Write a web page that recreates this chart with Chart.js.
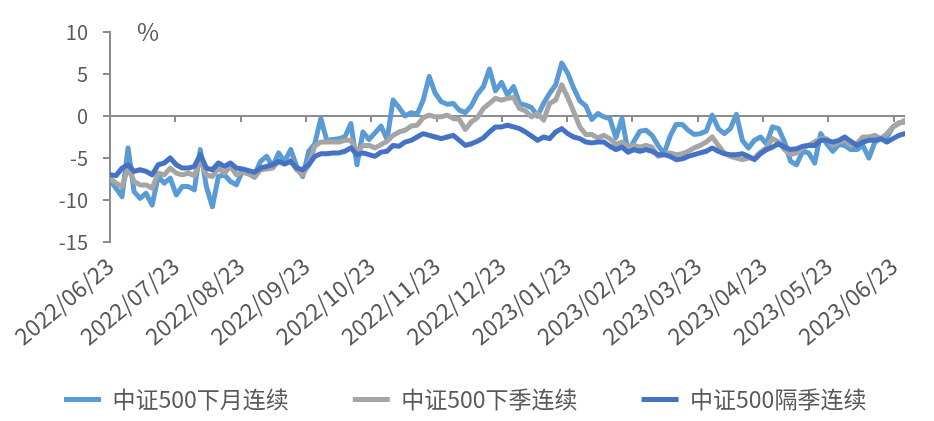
<!DOCTYPE html>
<html>
<head>
<meta charset="utf-8">
<script src="https://cdn.jsdelivr.net/npm/chart.js@4.4.0/dist/chart.umd.min.js"></script>
<style>
  html, body { margin: 0; padding: 0; background: #fff; }
  #wrap { width: 934px; height: 421px; }
</style>
</head>
<body>
<div id="wrap"><canvas id="grafico" width="934" height="421"></canvas></div>
<script>
// month tick labels (x axis)
const monthLabels = ['2022/06/23', '2022/07/23', '2022/08/23', '2022/09/23', '2022/10/23', '2022/11/23',
  '2022/12/23', '2023/01/23', '2023/02/23', '2023/03/23', '2023/04/23', '2023/05/23', '2023/06/23'];
const samplesPerMonth = 10.843;

const seriesNames = ['中证500下月连续', '中证500下季连续', '中证500隔季连续'];

// 中证500下月连续 (%)
const nextMonth = [
  -7.6, -8.6, -9.6, -3.8, -9.0, -9.8, -9.2, -10.6, -7.2, -8.0, -7.4, -9.4, -8.4, -8.4, -8.8, -4.0, -8.4, -10.8, -7.2, -7.0, -7.8, -8.2,
  -6.5, -6.8, -7.0, -5.4, -4.8, -6.0, -4.4, -5.4, -4.0, -6.0, -7.2, -4.2, -3.3, -0.3, -2.9, -2.8, -2.7, -2.5, -0.9, -5.8, -1.9, -2.8, -2.0,
  -1.2, -2.8, 1.9, 1.0, 0.0, 0.4, 0.2, 1.9, 4.7, 2.7, 1.7, 1.4, 1.5, 0.7, 0.4, 1.2, 2.6, 3.5, 5.6, 3.0, 4.0, 2.5,
  3.5, 1.5, 1.3, 1.0, 0.0, 1.5, 2.7, 3.7, 6.3, 5.1, 3.3, 1.8, 1.2, -0.4, 0.3, -0.1, -0.3, -2.6, -0.3, -4.2, -3.0, -1.8,
  -1.7, -2.3, -3.5, -4.5, -2.4, -1.0, -1.0, -1.7, -2.2, -2.1, -1.8, 0.1, -1.5, -2.1, -1.5, 0.2, -2.9, -3.8, -2.9, -2.5, -3.3, -1.3, -1.5,
  -3.1, -5.4, -5.8, -4.2, -4.4, -5.6, -2.1, -3.3, -4.2, -3.4, -3.5, -4.0, -4.0, -3.5, -5.0, -3.1, -2.7, -2.5, -1.3, -0.8, -0.7
];

// 中证500下季连续 (%)
const nextQuarter = [
  -7.4, -8.0, -8.4, -6.2, -7.8, -8.2, -8.2, -8.6, -6.8, -7.0, -6.2, -6.8, -7.0, -6.8, -7.1, -5.2, -7.0, -7.2, -6.2, -6.8, -6.0, -7.0,
  -6.7, -6.9, -7.3, -6.4, -6.3, -6.2, -5.4, -5.7, -5.3, -6.4, -7.0, -5.8, -3.6, -3.1, -3.1, -3.1, -3.1, -2.9, -2.9, -4.2, -3.5, -3.5, -3.8,
  -3.4, -3.0, -2.3, -1.9, -1.7, -1.2, -1.1, -0.2, 0.1, -0.1, -0.1, 0.1, -0.3, -0.4, -1.6, -0.7, -0.2, 0.9, 1.5, 2.1, 1.9, 2.1,
  2.2, 0.9, 0.6, -0.1, 0.3, -0.5, 1.5, 1.9, 3.7, 2.2, 0.5, -1.3, -2.2, -2.2, -2.6, -2.3, -2.7, -3.4, -3.1, -3.7, -3.5, -3.7,
  -3.5, -3.7, -4.8, -4.6, -4.4, -4.6, -4.5, -4.2, -3.8, -3.5, -3.1, -2.5, -3.5, -4.4, -4.8, -5.0, -5.2, -5.0, -5.0, -4.3, -3.8, -2.7, -3.1,
  -4.0, -4.6, -4.4, -3.8, -3.5, -3.1, -2.7, -2.7, -3.5, -3.1, -2.9, -3.5, -3.3, -2.5, -2.5, -2.3, -2.7, -2.1, -1.3, -0.9, -0.5
];

// 中证500隔季连续 (%)
const farQuarter = [
  -7.0, -7.1, -6.2, -5.8, -6.6, -6.4, -6.6, -7.0, -5.8, -5.6, -5.0, -5.8, -6.2, -6.2, -6.0, -4.6, -6.2, -6.4, -5.6, -6.0, -5.6, -6.2,
  -6.3, -6.5, -6.7, -6.2, -6.0, -5.8, -5.4, -5.7, -5.4, -6.2, -6.4, -5.8, -4.8, -4.5, -4.5, -4.4, -4.4, -4.2, -3.8, -4.6, -4.4, -4.6, -4.8,
  -4.3, -4.2, -3.5, -3.6, -3.1, -2.9, -2.5, -2.1, -2.3, -2.5, -2.7, -2.5, -2.3, -2.9, -3.5, -3.3, -3.0, -2.6, -1.9, -1.3, -1.3, -1.1,
  -1.3, -1.5, -1.9, -2.4, -2.9, -2.5, -2.7, -1.9, -1.5, -2.1, -2.5, -2.7, -3.1, -3.2, -3.1, -3.1, -3.6, -4.0, -3.7, -4.3, -4.0, -4.2,
  -4.0, -4.2, -4.6, -4.6, -4.8, -5.2, -5.1, -4.8, -4.6, -4.4, -4.2, -3.8, -4.2, -4.5, -4.6, -4.6, -4.5, -4.8, -5.2, -4.5, -4.0, -3.7, -3.3,
  -3.7, -4.0, -3.9, -3.6, -3.5, -3.5, -2.9, -2.9, -3.1, -2.9, -2.5, -3.0, -3.5, -3.1, -2.9, -2.9, -2.7, -3.1, -2.7, -2.3, -2.1
];

const yTicks = [10, 5, 0, -5, -10, -15];

const textColor = '#595959';
const axisColor = '#8c8c8c';
const fontFamily = '"Noto Sans CJK SC", "Noto Sans", sans-serif';

const toPoints = arr => arr.map((v, i) => ({x: i, y: v}));

// zero line with month tick marks, plus the "%" unit
const zeroAxis = {
  id: 'zeroAxis',
  afterLayout(chart) {
    // let the rotated date labels run below the axis box without being clipped
    const xs = chart.scales.x;
    xs.bottom = xs.top + 140;
  },
  beforeDatasetsDraw(chart) {
    const {ctx, chartArea, scales: {x, y}} = chart;
    const y0 = y.getPixelForValue(0);
    ctx.save();
    ctx.strokeStyle = axisColor;
    ctx.lineWidth = 2;
    ctx.beginPath();
    ctx.moveTo(chartArea.left, y0);
    ctx.lineTo(chartArea.right, y0);
    monthLabels.forEach((_, k) => {
      const px = Math.round(x.getPixelForValue(k * samplesPerMonth));
      ctx.moveTo(px, y0);
      ctx.lineTo(px, y0 + 6);
    });
    ctx.stroke();
    ctx.fillStyle = textColor;
    ctx.font = '24px ' + fontFamily;
    ctx.textBaseline = 'top';
    ctx.fillText('%', chartArea.left + 27, chartArea.top - 12);
    ctx.restore();
  }
};

const lineStyle = {borderWidth: 5, tension: 0, pointRadius: 0, borderJoinStyle: 'round', borderCapStyle: 'round'};

const ctx = document.getElementById('grafico').getContext('2d');

new Chart(ctx, {
  type: 'line',
  data: {
    datasets: [
      {label: seriesNames[0], data: toPoints(nextMonth), borderColor: '#5b9bd5', backgroundColor: '#5b9bd5', order: 3, ...lineStyle},
      {label: seriesNames[1], data: toPoints(nextQuarter), borderColor: '#a5a5a5', backgroundColor: '#a5a5a5', order: 2, ...lineStyle},
      {label: seriesNames[2], data: toPoints(farQuarter), borderColor: '#4472c4', backgroundColor: '#4472c4', order: 1, ...lineStyle}
    ]
  },
  options: {
    responsive: false,
    animation: false,
    devicePixelRatio: 1,
    layout: {
      padding: {top: 32, right: 0, left: 0, bottom: 0}
    },
    plugins: {
      tooltip: {enabled: false},
      legend: {
        position: 'bottom',
        align: 'start',
        labels: {
          usePointStyle: true,
          pointStyle: 'line',
          pointStyleWidth: 37,
          padding: 64,
          color: textColor,
          font: {size: 23, family: fontFamily},
          sort: (a, b) => a.datasetIndex - b.datasetIndex
        }
      }
    },
    scales: {
      x: {
        type: 'linear',
        min: 0,
        max: nextMonth.length - 1,
        border: {display: false},
        grid: {display: false},
        afterBuildTicks: scale => {
          scale.ticks = monthLabels.map((_, k) => ({value: k * samplesPerMonth}));
        },
        afterFit: scale => { scale.height = 82; },
        ticks: {
          autoSkip: false,
          minRotation: 40,
          maxRotation: 40,
          padding: 2,
          color: textColor,
          font: {size: 23, family: fontFamily},
          callback: (value, index) => monthLabels[index]
        }
      },
      y: {
        min: -15,
        max: 10,
        border: {display: true, color: axisColor, width: 2},
        grid: {drawOnChartArea: false, drawTicks: true, tickLength: 7, color: axisColor, lineWidth: 2},
        afterBuildTicks: scale => {
          scale.ticks = yTicks.map(v => ({value: v}));
        },
        afterFit: scale => { scale.width = 110; },
        ticks: {
          padding: 15,
          color: textColor,
          font: {size: 20, family: fontFamily}
        }
      },
      // empty right-hand margin so the plot stops short of the canvas edge
      yRight: {
        type: 'linear',
        position: 'right',
        display: true,
        border: {display: false},
        grid: {display: false},
        ticks: {display: false},
        afterFit: scale => { scale.width = 29; }
      }
    }
  },
  plugins: [zeroAxis]
});
</script>
</body>
</html>
